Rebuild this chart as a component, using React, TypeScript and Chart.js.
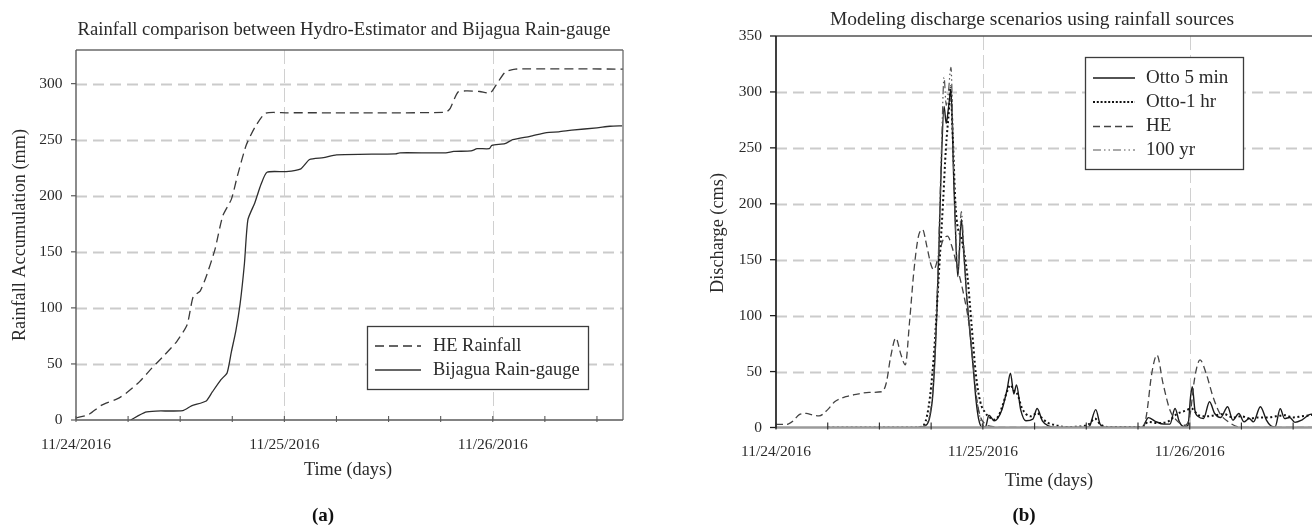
import React, { useEffect, useRef } from "react";
import { Chart, registerables } from "chart.js";

Chart.register(...registerables);

// ---------- shared axis data ----------
const hourTicks = [0, 6, 12, 18, 24, 30, 36, 42, 48, 54, 60];
const dayHours = [0, 24, 48];
const dayLabels = ["11/24/2016", "11/25/2016", "11/26/2016"];

// ---------- (a) rainfall accumulation ----------
const rainTicks = [0, 50, 100, 150, 200, 250, 300];
const heRainHours = [0, 1.45, 2.9, 4.8, 5.8, 7.3, 8.7, 10.2, 11.6, 12.8, 13.5, 14.3, 15, 16, 16.9, 17.9, 18.6, 19.6, 20.6, 21.8, 24.2, 31.5, 42.6, 43.1, 44, 45, 46.5, 47.7, 48.4, 49.4, 50.6, 63];
const heRainMm = [1.8, 4.8, 13, 19, 24, 34, 46, 58, 70, 85, 110, 115, 128, 152, 182, 197, 218, 245, 261, 273.5, 274, 274, 274.5, 278, 292.5, 293.5, 293, 291.6, 299, 310, 313, 313];
const gaugeHours = [6.3, 8, 9.2, 12.3, 13.3, 15, 15.7, 16.7, 17.4, 17.9, 18.4, 18.9, 19.4, 19.8, 20.6, 21.3, 22, 24.2, 25.9, 26.9, 28.5, 30, 36.8, 37.3, 42.6, 43.5, 45.5, 46.2, 47.6, 47.9, 49.4, 50.3, 52.3, 54.2, 55.6, 57.1, 60, 61.5, 62.9];
const gaugeMm = [0, 7, 8, 8.4, 12.6, 17, 25, 36, 42, 61, 79, 103.5, 139.6, 178.7, 193.8, 210, 221, 221.5, 224, 232.3, 234, 236.5, 237.4, 238.3, 238.3, 239.5, 240, 242, 242, 245, 246.4, 250, 253, 256.4, 257, 258.5, 260.6, 262, 262.4];

// ---------- (b) discharge ----------
const dischargeTicks = [0, 50, 100, 150, 200, 250, 300, 350];
const otto5Hours = [16.5, 17.3, 17.8, 18.2, 18.6, 18.9, 19.2, 19.5, 19.75, 20.0, 20.3, 20.6, 20.9, 21.1, 21.5, 21.8, 22.1, 22.5, 22.9, 23.2, 23.5, 23.9, 24.3, 24.7, 25.3, 25.7, 26.2, 26.8, 27.2, 27.6, 27.9, 28.4, 29.0, 29.8, 30.3, 30.9, 31.6, 33, 36, 36.4, 37.1, 37.6, 38.2, 42.5, 42.8, 43.2, 44.0, 45, 45.7, 46.3, 46.8, 47.4, 47.8, 48.1, 48.3, 48.6, 49.0, 49.6, 50.3, 50.9, 51.6, 52.4, 53.0, 53.7, 54.3, 54.9, 55.4, 56.2, 56.9, 57.4, 57.9, 58.5, 59.0, 59.6, 60.2, 61.0, 62.1, 63];
const otto5Cms = [0, 1.5, 8, 30, 90, 160, 240, 287, 272, 285, 302, 227, 160, 135, 186, 155, 120, 85, 52, 25, 8, 0.5, 0.5, 11, 6, 8, 15.6, 33.5, 48.5, 30, 38, 15.6, 6, 7.5, 17, 6, 1.5, 0, 0, 1.5, 16, 3, 0, 0, 4, 8.8, 5.5, 3, 3, 17, 5, 0.5, 2, 27.6, 36.5, 15.6, 9.7, 8, 23, 12.5, 9, 18.6, 6.6, 12.5, 5, 8, 5, 18.6, 6.6, 1.5, 0.5, 16.8, 8, 9, 4.6, 6.6, 12, 11];
const otto1Hours = [6, 16, 17, 17.7, 18.3, 18.9, 19.4, 19.7, 20.1, 20.25, 20.5, 20.85, 21.6, 22.2, 22.7, 23.2, 23.7, 24.3, 24.8, 25.3, 25.8, 26.3, 26.8, 27.2, 27.6, 28.0, 28.5, 29.0, 29.6, 30.3, 30.9, 31.6, 32.5, 33.5, 35.5, 36.3, 37.0, 37.6, 38.5, 42.5, 43.2, 44.2, 45.4, 46.5, 47.5, 48.2, 49, 50, 51, 52, 53, 54, 55, 56, 57, 58, 59, 60, 61, 62, 63];
const otto1Cms = [0, 0, 1, 18, 63, 138, 204, 248, 287, 305, 262, 196, 166, 136, 91, 47, 23, 13, 9, 7, 10, 20, 32, 38, 33, 30, 18, 12, 10, 13, 8, 4, 2, 0.5, 1, 3, 8, 3, 0.5, 0.5, 5, 4, 5, 12, 15, 17, 11, 10, 11, 12, 9, 10, 8, 9, 9, 10, 11, 9, 10, 11, 12];
const heHours = [0, 1.2, 2.0, 2.7, 3.5, 4.3, 5.0, 6.0, 6.8, 8.1, 9.3, 10.8, 12.3, 12.8, 13.3, 13.9, 14.5, 15.0, 15.5, 16.0, 16.5, 17.0, 17.5, 18.0, 18.3, 18.9, 19.4, 19.9, 20.4, 21.2, 21.8, 22.4, 22.9, 23.3, 23.7, 24.3, 25.0, 26, 42.6, 43.0, 43.6, 44.2, 44.9, 45.7, 46.4, 47.4, 48.0, 48.6, 49.2, 49.9, 50.7, 51.5, 52.5, 53.6, 54.5, 63];
const heCms = [2.8, 2.8, 6, 11.5, 12.6, 11, 10.4, 16, 23, 27.5, 29.6, 31.4, 32, 40, 63, 80, 65, 56, 95, 140, 170, 177, 162, 145, 141, 155, 168, 171, 162, 138, 118, 92, 55, 25, 10, 3, 1, 0, 0, 12, 48.5, 64.8, 39.5, 15.6, 7, 2, 9.7, 45.4, 60.4, 48.5, 27.6, 12.5, 5, 0.6, 0, 0];
const yr100Hours = [16.5, 17.3, 17.8, 18.2, 18.6, 18.9, 19.2, 19.5, 19.75, 20.0, 20.3, 20.6, 20.9, 21.1, 21.5, 21.8, 22.1, 22.5, 22.9, 23.3, 23.7, 24.1, 24.6];
const yr100Cms = [0, 2, 10, 35, 95, 170, 250, 313, 288, 300, 322, 235, 165, 140, 193, 160, 122, 88, 55, 25, 8, 1, 0];

const FONT = '"Liberation Serif", "Times New Roman", serif';
const TEXT = "#2a2a2a";

function pts(xs: number[], ys: number[]) {
  return xs.map((x, i) => ({ x, y: ys[i] }));
}

type LegendItem = { label: string; dash: number[]; width: number; color: string };
type Decor = {
  variant: "a" | "b";
  yTicks: number[];
  title: string; titleX: number; titleY: number; titleSize: number;
  xTitle: string; xTitleX: number; xTitleY: number;
  yTitle: string; yTitleX: number; yTitleY: number;
  panel: string; panelX: number; panelY: number;
  legendSize: number;
  legend: { x: number; y: number; w: number; h: number; rows: number[]; s1: number; s2: number; tx: number; items: LegendItem[] };
};

function line(ctx: CanvasRenderingContext2D, x1: number, y1: number, x2: number, y2: number, color: string, width: number, dash: number[] = []) {
  ctx.save();
  ctx.strokeStyle = color;
  ctx.lineWidth = width;
  ctx.setLineDash(dash);
  ctx.beginPath();
  ctx.moveTo(x1, y1);
  ctx.lineTo(x2, y2);
  ctx.stroke();
  ctx.restore();
}

function makeDecor(d: Decor) {
  return {
    id: "decor" + d.variant,
    beforeDatasetsDraw(chart: any) {
      const { ctx, chartArea, scales } = chart;
      const { left, right, top, bottom } = chartArea;
      const x = scales.x, y = scales.y;
      d.yTicks.forEach((v) => {
        if (v <= 0 || v >= y.max) return;
        const py = Math.round(y.getPixelForValue(v)) + 0.5;
        line(ctx, left, py, right, py, "#cbcbcb", 1.8, [11, 6]);
      });
      dayHours.forEach((v) => {
        if (v <= 0) return;
        const px = Math.round(x.getPixelForValue(v)) + 0.5;
        line(ctx, px, top, px, bottom, "#d0d0d0", 1, [14, 5]);
      });
    },
    afterDatasetsDraw(chart: any) {
      const { ctx, chartArea, scales } = chart;
      const { left, right, top, bottom } = chartArea;
      const x = scales.x, y = scales.y;
      if (d.variant === "a") {
        line(ctx, left, top, right, top, "#6a6a6a", 1.3);
        line(ctx, right, top, right, bottom, "#6a6a6a", 1.3);
        line(ctx, left, bottom, right, bottom, "#5a5a5a", 1.4);
        line(ctx, left, top, left, bottom, "#5a5a5a", 1.4);
        d.yTicks.forEach((v) => {
          const py = y.getPixelForValue(v);
          line(ctx, left - 5, py, left, py, "#5a5a5a", 1.2);
        });
        hourTicks.forEach((v) => {
          const px = x.getPixelForValue(v);
          line(ctx, px, bottom - 4, px, bottom + 2, "#5a5a5a", 1.1);
        });
      } else {
        line(ctx, left, bottom, right + 40, bottom, "#9a9a9a", 2.4);
        line(ctx, left, top, right + 40, top, "#505050", 1.6);
        line(ctx, left, top, left, bottom + 1, "#1e1e1e", 1.7);
        d.yTicks.forEach((v) => {
          const py = y.getPixelForValue(v);
          line(ctx, left - 6, py, left, py, "#1e1e1e", 1.3);
        });
        hourTicks.forEach((v) => {
          const px = x.getPixelForValue(v);
          line(ctx, px, bottom - 5, px, bottom + 2, "#333", 1.2);
        });
      }
      const L = d.legend;
      ctx.save();
      ctx.fillStyle = "#fff";
      ctx.fillRect(L.x, L.y, L.w, L.h);
      ctx.strokeStyle = "#3c3c3c";
      ctx.lineWidth = 1.3;
      ctx.strokeRect(L.x + 0.5, L.y + 0.5, L.w, L.h);
      ctx.restore();
      L.items.forEach((it, i) => {
        const ry = L.rows[i];
        line(ctx, L.s1, ry, L.s2, ry, it.color, it.width, it.dash);
        ctx.save();
        ctx.fillStyle = TEXT;
        ctx.font = `${d.legendSize}px ${FONT}`;
        ctx.textBaseline = "middle";
        ctx.textAlign = "left";
        ctx.fillText(it.label, L.tx, ry);
        ctx.restore();
      });
      ctx.save();
      ctx.fillStyle = TEXT;
      ctx.textAlign = "center";
      ctx.textBaseline = "middle";
      ctx.font = `${d.titleSize}px ${FONT}`;
      ctx.fillText(d.title, d.titleX, d.titleY);
      ctx.font = `18.3px ${FONT}`;
      ctx.fillText(d.xTitle, d.xTitleX, d.xTitleY);
      ctx.save();
      ctx.translate(d.yTitleX, d.yTitleY);
      ctx.rotate(-Math.PI / 2);
      ctx.fillText(d.yTitle, 0, 0);
      ctx.restore();
      ctx.fillStyle = "#111";
      ctx.font = `bold 19px ${FONT}`;
      ctx.fillText(d.panel, d.panelX, d.panelY);
      ctx.restore();
    },
  };
}

function axisOptions(yMax: number, yTicks: number[], yWidth: number, xHeight: number, xPad: number, yPad: number) {
  return {
    x: {
      type: "linear" as const,
      min: 0,
      max: 63,
      afterBuildTicks: (s: any) => {
        s.ticks = dayHours.map((v) => ({ value: v }));
      },
      afterFit: (s: any) => {
        s.height = xHeight;
      },
      grid: { display: false, drawTicks: false },
      border: { display: false },
      ticks: {
        autoSkip: false,
        maxRotation: 0,
        padding: xPad,
        color: TEXT,
        font: { family: FONT, size: 15.5 },
        callback: (v: any) => {
          const i = dayHours.indexOf(Number(v));
          return i >= 0 ? dayLabels[i] : "";
        },
      },
    },
    y: {
      type: "linear" as const,
      min: 0,
      max: yMax,
      afterBuildTicks: (s: any) => {
        s.ticks = yTicks.map((v) => ({ value: v }));
      },
      afterFit: (s: any) => {
        s.width = yWidth;
      },
      grid: { display: false, drawTicks: false },
      border: { display: false },
      ticks: {
        padding: yPad,
        color: TEXT,
        font: { family: FONT, size: 15.5 },
        callback: (v: any) => String(v),
      },
    },
  };
}

const decorA: Decor = {
  variant: "a",
  yTicks: rainTicks,
  title: "Rainfall comparison between Hydro-Estimator and Bijagua Rain-gauge",
  titleX: 344, titleY: 30, titleSize: 18.6,
  xTitle: "Time (days)", xTitleX: 348, xTitleY: 470,
  yTitle: "Rainfall Accumulation (mm)", yTitleX: 20, yTitleY: 235,
  panel: "(a)", panelX: 323, panelY: 516,
  legendSize: 18.4,
  legend: {
    x: 367, y: 326, w: 221, h: 63, rows: [346, 370], s1: 375, s2: 421, tx: 433,
    items: [
      { label: "HE Rainfall", dash: [9, 5], width: 1.3, color: "#333" },
      { label: "Bijagua Rain-gauge", dash: [], width: 1.3, color: "#333" },
    ],
  },
};

const decorB: Decor = {
  variant: "b",
  yTicks: dischargeTicks,
  title: "Modeling discharge scenarios using rainfall sources",
  titleX: 372, titleY: 20, titleSize: 19.5,
  xTitle: "Time (days)", xTitleX: 389, xTitleY: 481,
  yTitle: "Discharge (cms)", yTitleX: 58, yTitleY: 233,
  panel: "(b)", panelX: 364, panelY: 516,
  legendSize: 19,
  legend: {
    x: 425, y: 57, w: 158, h: 112, rows: [78, 102, 126.5, 150], s1: 433, s2: 475, tx: 486,
    items: [
      { label: "Otto 5 min", dash: [], width: 1.3, color: "#1a1a1a" },
      { label: "Otto-1 hr", dash: [2, 1.8], width: 2, color: "#111" },
      { label: "HE", dash: [7, 4], width: 1.3, color: "#444" },
      { label: "100 yr", dash: [8, 3, 1.5, 3, 1.5, 3], width: 1.2, color: "#555" },
    ],
  },
};

function ChartA() {
  const ref = useRef<HTMLCanvasElement>(null);
  useEffect(() => {
    if (!ref.current) return;
    const chart = new Chart(ref.current, {
      type: "line",
      data: {
        datasets: [
          { label: "HE Rainfall", data: pts(heRainHours, heRainMm), borderColor: "#3a3a3a", borderWidth: 1.3, borderDash: [9, 5], pointRadius: 0, tension: 0.2 },
          { label: "Bijagua Rain-gauge", data: pts(gaugeHours, gaugeMm), borderColor: "#2e2e2e", borderWidth: 1.3, pointRadius: 0, tension: 0.2 },
        ],
      },
      options: {
        responsive: false,
        animation: false,
        layout: { padding: { left: 0, top: 50, right: 37, bottom: 0 } },
        plugins: { legend: { display: false }, tooltip: { enabled: false }, title: { display: false } },
        scales: axisOptions(330, rainTicks, 76, 109, 16, 13.5),
      },
      plugins: [makeDecor(decorA)],
    } as any);
    return () => chart.destroy();
  }, []);
  return <canvas ref={ref} width={660} height={529} style={{ position: "absolute", left: 0, top: 0, display: "block" }} />;
}

function ChartB() {
  const ref = useRef<HTMLCanvasElement>(null);
  useEffect(() => {
    if (!ref.current) return;
    const mono = { cubicInterpolationMode: "monotone" as const, pointRadius: 0 };
    const chart = new Chart(ref.current, {
      type: "line",
      data: {
        datasets: [
          { label: "HE", data: pts(heHours, heCms), borderColor: "#444", borderWidth: 1.3, borderDash: [7, 4], ...mono },
          { label: "100 yr", data: pts(yr100Hours, yr100Cms), borderColor: "#555", borderWidth: 1.2, borderDash: [8, 3, 1.5, 3, 1.5, 3], ...mono },
          { label: "Otto-1 hr", data: pts(otto1Hours, otto1Cms), borderColor: "#111", borderWidth: 2, borderDash: [2, 2.6], ...mono },
          { label: "Otto 5 min", data: pts(otto5Hours, otto5Cms), borderColor: "#1a1a1a", borderWidth: 1.4, ...mono },
        ],
      },
      options: {
        responsive: false,
        animation: false,
        layout: { padding: { left: 0, top: 36, right: 21, bottom: 0 } },
        plugins: { legend: { display: false }, tooltip: { enabled: false }, title: { display: false } },
        scales: axisOptions(350, dischargeTicks, 116, 101.5, 15.5, 14),
      },
      plugins: [makeDecor(decorB)],
    } as any);
    return () => chart.destroy();
  }, []);
  return (
    <div style={{ position: "absolute", left: 660, top: 0, width: 652, height: 529, overflow: "hidden" }}>
      <canvas ref={ref} width={680} height={529} style={{ display: "block" }} />
    </div>
  );
}

export default function App() {
  return (
    <div style={{ position: "fixed", left: 0, top: 0, width: 1312, height: 529, background: "#fff", overflow: "hidden" }}>
      <ChartA />
      <ChartB />
    </div>
  );
}
